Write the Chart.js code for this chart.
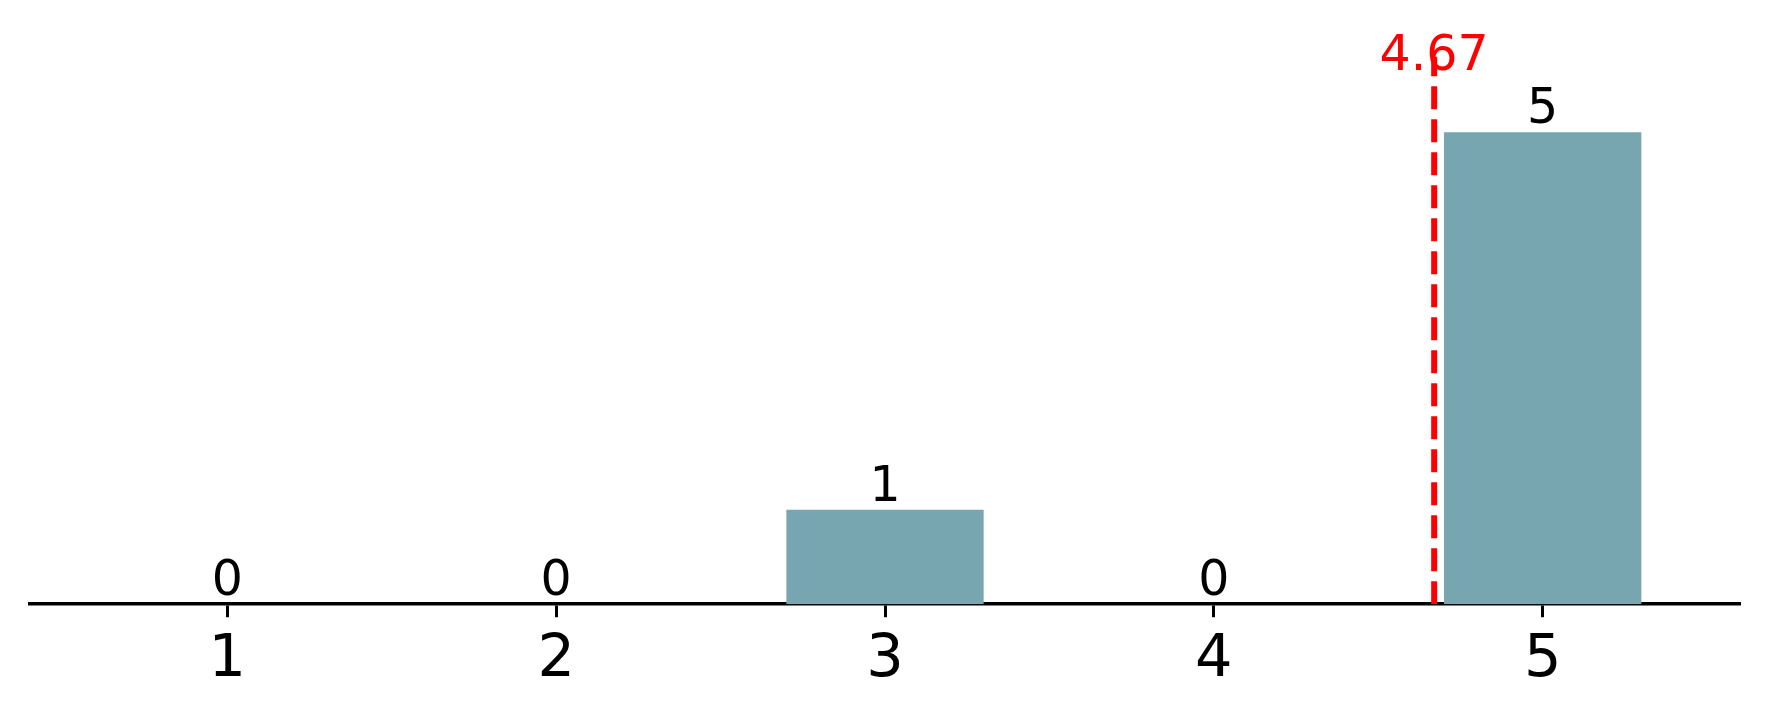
<!DOCTYPE html>
<html>
<head>
<meta charset="utf-8">
<script src="https://cdn.jsdelivr.net/npm/chart.js@4/dist/chart.umd.min.js"></script>
<style>
  html, body { margin: 0; padding: 0; background: #fff; }
  #wrap { width: 1770px; height: 719px; }
</style>
</head>
<body>
<div id="wrap"><canvas id="chart" width="1770" height="719"></canvas></div>
<script>
const ratings = [1, 2, 3, 4, 5];
const counts = [0, 0, 1, 0, 5];
const meanValue = 4.67;
const meanLabel = '4.67';
const meanLineTop = 5.8;

const FONT = '"DejaVu Sans", sans-serif';
const BAR = '#77a5b0';
const RED = '#ff0000';

const labelPlugin = {
  id: 'labels',
  afterDatasetsDraw(chart) {
    const ctx = chart.ctx;
    const meta = chart.getDatasetMeta(0);
    ctx.save();
    ctx.font = `49px ${FONT}`;
    ctx.fillStyle = '#000';
    ctx.textAlign = 'center';
    ctx.textBaseline = 'alphabetic';
    meta.data.forEach((bar, i) => {
      ctx.fillText(String(counts[i]), bar.x, bar.y - 9);
    });
    const x = chart.scales.x.getPixelForValue(meanValue);
    const y = chart.scales.y.getPixelForValue(meanLineTop) + 13;
    ctx.fillStyle = RED;
    ctx.fillText(meanLabel, x, y);
    ctx.restore();
  }
};

new Chart(document.getElementById('chart'), {
  type: 'bar',
  data: {
    datasets: [
      {
        type: 'bar',
        data: ratings.map((r, i) => ({ x: r, y: counts[i] })),
        backgroundColor: BAR,
        borderWidth: 0,
        barPercentage: 0.6,
        categoryPercentage: 1.0,
        order: 2
      },
      {
        type: 'line',
        data: [{ x: meanValue, y: 0 }, { x: meanValue, y: meanLineTop }],
        borderColor: RED,
        borderWidth: 6,
        borderDash: [23, 10],
        pointRadius: 0,
        fill: false,
        order: 1
      }
    ]
  },
  options: {
    responsive: false,
    animation: false,
    layout: { padding: { left: 30, right: 30, top: 0, bottom: 15 } },
    plugins: { legend: { display: false }, tooltip: { enabled: false } },
    scales: {
      x: {
        type: 'linear',
        offset: false,
        min: 0.4,
        max: 5.6,
        afterBuildTicks: axis => { axis.ticks = ratings.map(v => ({ value: v })); },
        ticks: { color: '#000', font: { family: FONT, size: 59 }, padding: 8, callback: v => String(v) },
        grid: { offset: false, drawOnChartArea: false, drawTicks: true, tickLength: 13, tickWidth: 3, tickColor: '#000' },
        border: { display: true, color: '#000', width: 3.5 }
      },
      y: {
        display: false,
        min: 0,
        max: 6.4
      }
    }
  },
  plugins: [labelPlugin]
});
</script>
</body>
</html>
